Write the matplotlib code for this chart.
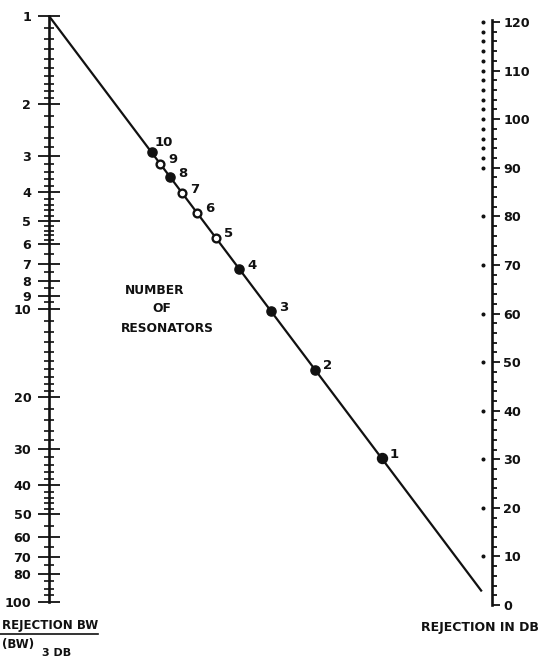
import matplotlib
matplotlib.use("Agg")
import matplotlib.pyplot as plt
import numpy as np
from matplotlib.transforms import ScaledTranslation

# ---- scale data -------------------------------------------------------
# left scale: rejection bandwidth / 3 dB bandwidth (logarithmic)
RATIO_MAJOR = [1, 2, 3, 4, 5, 6, 7, 8, 9, 10, 20, 30, 40, 50, 60, 70, 80, 100]
RATIO_MINOR = (list(np.round(np.arange(1.1, 2.0, 0.1), 2))
               + [2.2, 2.4, 2.6, 2.8, 3.2, 3.4, 3.6, 3.8, 4.2, 4.4, 4.6, 4.8,
                  5.2, 5.4, 5.6, 5.8, 6.5, 7.5, 8.5, 9.5]
               + list(range(11, 20))
               + [22, 24, 26, 28, 32, 34, 36, 38, 42, 44, 46, 48,
                  55, 65, 75, 85, 90, 95])
# right scale: rejection in dB (linear)
DB_MAJOR = list(range(0, 121, 10))
DB_MINOR = [d for d in range(0, 121, 2) if d % 10]
DB_DOTS = list(range(10, 91, 10)) + list(range(92, 121, 2))
# pivot scale: number of resonators, 20 dB per decade per resonator
RESONATORS = [1, 2, 3, 4, 5, 6, 7, 8, 9, 10]
OPEN_MARKERS = [5, 6, 7, 9]
DB_PER_DECADE = 20.0

W, H, DPI = 555, 662, 100
fig = plt.figure(figsize=(W / DPI, H / DPI), dpi=DPI)
fig.patch.set_facecolor("white")

x_left, x_right = 49, 492          # scale lines (px)
y_top, y_bot = 16, 605             # vertical extent (px)
ax_l = fig.add_axes([x_left / W, 1 - y_bot / H,
                     (x_right - x_left) / W, (y_bot - y_top) / H])
ax_l.patch.set_visible(False)
ax_l.set_xlim(0, 1)
ax_l.set_yscale("log")
decade_px = 293.0
ax_l.set_ylim(10 ** ((y_bot - y_top) / decade_px), 1)

ax_r = ax_l.twinx()
db_px = 4.858
ax_r.set_ylim(0, (y_bot - y_top) / db_px)

FONT = dict(family="DejaVu Sans", weight="bold")
ink = "#111111"

# ---- left log scale ---------------------------------------------------
for s in ("top", "bottom", "right"):
    ax_l.spines[s].set_visible(False)
ax_l.spines["left"].set_bounds(1, 100)
ax_l.spines["left"].set_linewidth(1.9)
ax_l.spines["left"].set_color(ink)
ax_l.set_xticks([])
ax_l.yaxis.set_major_locator(matplotlib.ticker.FixedLocator(RATIO_MAJOR))
ax_l.yaxis.set_minor_locator(matplotlib.ticker.FixedLocator(RATIO_MINOR))
ax_l.yaxis.set_major_formatter(matplotlib.ticker.FixedFormatter([str(v) for v in RATIO_MAJOR]))
ax_l.yaxis.set_minor_formatter(matplotlib.ticker.NullFormatter())
ax_l.tick_params(axis="y", which="major", direction="inout", length=15.5, width=1.3,
                 pad=5, color=ink, labelsize=9.2, labelcolor=ink)
ax_l.tick_params(axis="y", which="minor", direction="inout", length=7.5, width=1.2, color=ink)
for lab in ax_l.get_yticklabels():
    lab.set_fontweight("bold")

# ---- right linear scale -----------------------------------------------
for s in ("top", "bottom", "left"):
    ax_r.spines[s].set_visible(False)
ax_r.spines["right"].set_bounds(0, 120.5)
ax_r.spines["right"].set_linewidth(1.9)
ax_r.spines["right"].set_color(ink)
ax_r.set_yticks(DB_MAJOR)
ax_r.set_yticklabels([str(v) for v in DB_MAJOR])
ax_r.set_yticks(DB_MINOR, minor=True)
ax_r.tick_params(axis="y", which="major", direction="out", length=6, width=1.3,
                 pad=2.2, color=ink, labelsize=9.2, labelcolor=ink)
ax_r.tick_params(axis="y", which="minor", direction="out", length=3.5, width=1.3, color=ink)
for lab in ax_r.get_yticklabels():
    lab.set_fontweight("bold")

dot_shift = ax_r.transData + ScaledTranslation(-9 / DPI, 0, fig.dpi_scale_trans)
ax_r.plot(np.ones(len(DB_DOTS)), DB_DOTS, ls="none", marker="o", ms=1.9,
          color=ink, transform=dot_shift, clip_on=False)

# ---- pivot line and resonator points ---------------------------------
p0 = ax_l.transData.transform((0, 1.0))      # ratio 1 on left scale
p1 = ax_r.transData.transform((1, 0.0))      # 0 dB on right scale
a = abs(ax_l.transData.transform((0, 10.0))[1] - p0[1])
b = abs(ax_r.transData.transform((1, 1.0))[1] - p1[1])
inv = ax_r.transData.inverted()

seg = inv.transform(np.array([p0, p0 + 0.977 * (p1 - p0)]))
ax_r.plot(seg[:, 0], seg[:, 1], color=ink, lw=1.6, clip_on=False,
          solid_capstyle="butt")

for n in RESONATORS:
    t = a / (a + DB_PER_DECADE * n * b)
    px, py = inv.transform(p0 + t * (p1 - p0))
    if n in OPEN_MARKERS:
        ax_r.plot(px, py, marker="o", ms=5.6, mfc="white", mec=ink, mew=1.7,
                  zorder=5, clip_on=False)
    else:
        ax_r.plot(px, py, marker="o", ms=7.2 if n == 1 else 6.6, color=ink,
                  zorder=5, clip_on=False)
    off = (2.2, 7.4) if n == 10 else (5.8, 3.0)
    ax_r.annotate(str(n), (px, py), xytext=off, textcoords="offset points",
                  ha="left", va="center", fontsize=9.5, color=ink, **FONT)

# ---- captions ---------------------------------------------------------
def fx(x):
    return x / W

def fy(y):
    return 1 - y / H

fig.text(fx(155), fy(290), "NUMBER", ha="center", va="center", fontsize=8.8, color=ink, **FONT)
fig.text(fx(162), fy(309), "OF", ha="center", va="center", fontsize=8.8, color=ink, **FONT)
fig.text(fx(167), fy(328), "RESONATORS", ha="center", va="center", fontsize=8.8, color=ink, **FONT)

# left-scale title as a fraction: rejection BW over 3 dB BW
fig.text(fx(2), fy(629), "REJECTION BW", ha="left", va="baseline", fontsize=8.5, color=ink, **FONT)
fig.add_artist(plt.Line2D([fx(0), fx(98)], [fy(634), fy(634)], color=ink, lw=1.2))
t_bw = fig.text(fx(2), fy(648), "(BW)", ha="left", va="baseline", fontsize=8.5, color=ink, **FONT)
fig.text(fx(42), fy(655.5), "3 DB", ha="left", va="baseline", fontsize=8.0, color=ink, **FONT)

fig.text(fx(480), fy(628), "REJECTION IN DB", ha="center", va="center", fontsize=9.0, color=ink, **FONT)

fig.savefig("out.png", dpi=DPI, facecolor="white")
